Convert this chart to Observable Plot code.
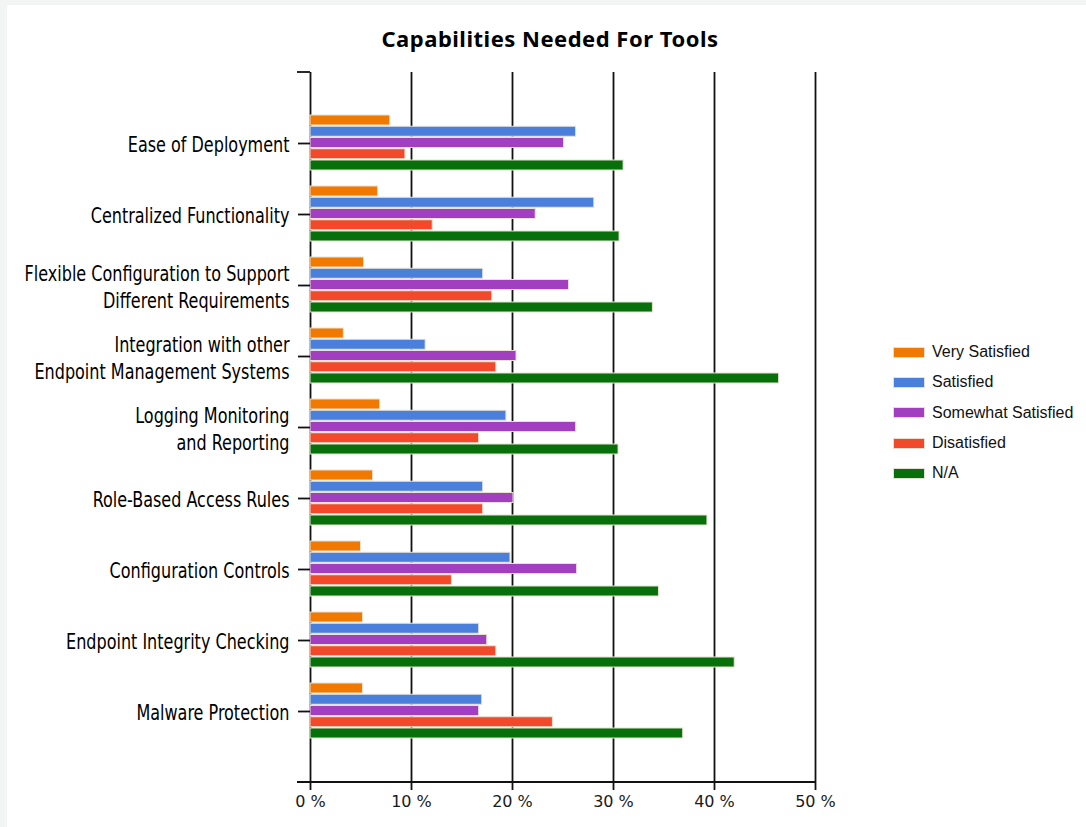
<!DOCTYPE html>
<html>
<head>
<meta charset="utf-8">
<script src="https://cdn.jsdelivr.net/npm/d3@7"></script>
<script src="https://cdn.jsdelivr.net/npm/@observablehq/plot@0.6"></script>
<style>
  html, body { margin: 0; padding: 0; background: #f3f4f4; }
  #page { position: relative; width: 1086px; height: 827px; overflow: hidden; }
  #card { position: absolute; left: 7px; top: 5px; right: 0; bottom: 0; background: #fff; }
  #chart { position: absolute; left: 0; top: 0; }
  #title { position: absolute; left: 0; width: 1100px; top: 23px; line-height: 22px; letter-spacing: 0.5px;
           text-align: center; font: bold 22px "Noto Sans", "Open Sans", sans-serif; color: #000; }
  #legend { position: absolute; left: 893px; top: 337px; font: 16px "Liberation Sans", Arial, sans-serif; color: #111; }
  .item { display: flex; align-items: center; height: 30.3px; white-space: nowrap; }
  .sw { width: 30px; height: 9px; border: 1px solid #e4dfd2; margin-right: 7px; box-sizing: content-box; }
</style>
</head>
<body>
<div id="page">
  <div id="card"></div>
  <div id="chart"></div>
  <div id="title">Capabilities Needed For Tools</div>
  <div id="legend"></div>
</div>
<script>
// Survey categories (top to bottom)
const categories = [
  "Ease of Deployment",
  "Centralized Functionality",
  "Flexible Configuration to Support\nDifferent Requirements",
  "Integration with other\nEndpoint Management Systems",
  "Logging Monitoring\nand Reporting",
  "Role-Based Access Rules",
  "Configuration Controls",
  "Endpoint Integrity Checking",
  "Malware Protection"
];

const seriesNames = ["Very Satisfied", "Satisfied", "Somewhat Satisfied", "Disatisfied", "N/A"];
const seriesColors = ["#f27900", "#4a7fdc", "#a23fc0", "#f2492b", "#07700a"];

// Percent of respondents per category, one array per answer
const verySatisfied     = [7.9, 6.7, 5.3, 3.3, 6.9, 6.2, 5.0, 5.2, 5.2];
const satisfied         = [26.3, 28.1, 17.1, 11.4, 19.4, 17.1, 19.8, 16.7, 17.0];
const somewhatSatisfied = [25.1, 22.3, 25.6, 20.4, 26.3, 20.1, 26.4, 17.5, 16.7];
const disatisfied       = [9.4, 12.1, 18.0, 18.4, 16.7, 17.1, 14.0, 18.4, 24.0];
const notApplicable     = [31.0, 30.6, 33.9, 46.4, 30.5, 39.3, 34.5, 42.0, 36.9];

const xTicks = [0, 10, 20, 30, 40, 50];

const seriesValues = [verySatisfied, satisfied, somewhatSatisfied, disatisfied, notApplicable];

// Long-format table built from the arrays above
const rows = seriesValues.flatMap((vals, j) =>
  vals.map((v, i) => ({category: categories[i], series: seriesNames[j], value: v}))
);

// Each category band holds five bars, one per answer
const bandStep = 71;
const barTop = 7.5;
const barPitch = 11.25;
const barHeight = 10;

const barMarks = seriesNames.map((name, j) =>
  Plot.barX(rows.filter(d => d.series === name), {
    x: "value",
    y: "category",
    fill: seriesColors[j],
    stroke: "#e8e2d3",
    strokeWidth: 1,
    insetTop: barTop + barPitch * j,
    insetBottom: bandStep - (barTop + barPitch * j + barHeight)
  })
);

const chart = Plot.plot({
  width: 1086,
  height: 827,
  marginTop: 72,
  marginBottom: 45,
  marginLeft: 310,
  marginRight: 271,
  style: {background: "transparent", fontFamily: "'DejaVu Sans Condensed', 'Liberation Sans Narrow', sans-serif", fontSize: "22px", color: "#000"},
  x: {domain: [0, 50], axis: null},
  y: {domain: categories, paddingInner: 0, paddingOuter: 0.5, round: false, axis: null},
  marks: [
    Plot.ruleX(xTicks, {stroke: "#111", strokeWidth: 1.8}),
    ...barMarks,
    Plot.axisX(xTicks, {
      anchor: "bottom",
      tickSize: 8,
      tickPadding: 5,
      tickFormat: d => d + " %",
      fontSize: 16,
      fontFamily: "'DejaVu Sans', Tahoma, sans-serif",
      stroke: "#111",
      strokeWidth: 1.8,
      fill: "#1a1a1a",
      label: null
    }),
    Plot.axisY({
      anchor: "left",
      tickSize: 12,
      tickPadding: 9,
      stroke: "#111",
      strokeWidth: 1.8,
      fill: "#000",
      lineHeight: 1.23,
      label: null
    })
  ]
});

const svg = d3.select(chart);

// Narrow the category labels horizontally around their right-hand anchor
svg.selectAll('g[aria-label="y-axis tick label"] text').each(function () {
  const t = this.getAttribute("transform") || "";
  this.setAttribute("transform", t + " scale(0.81,1)");
});

// Axis lines: the bottom baseline and the short stub capping the top of the value axis
const xs = chart.scale("x");
const ys = chart.scale("y");
const [yTop, yBottom] = ys.range;
const x0 = xs.apply(0), x1 = xs.apply(50);
svg.append("line")
  .attr("x1", x0 - 13).attr("x2", x1).attr("y1", yBottom).attr("y2", yBottom)
  .attr("stroke", "#111").attr("stroke-width", 1.8);
svg.append("line")
  .attr("x1", x0 - 13).attr("x2", x0).attr("y1", yTop).attr("y2", yTop)
  .attr("stroke", "#111").attr("stroke-width", 1.8);

document.getElementById("chart").appendChild(chart);

// Legend
const legend = d3.select("#legend");
seriesNames.forEach((name, j) => {
  const item = legend.append("div").attr("class", "item");
  item.append("div").attr("class", "sw").style("background", seriesColors[j]);
  item.append("span").text(name);
});
</script>
</body>
</html>
